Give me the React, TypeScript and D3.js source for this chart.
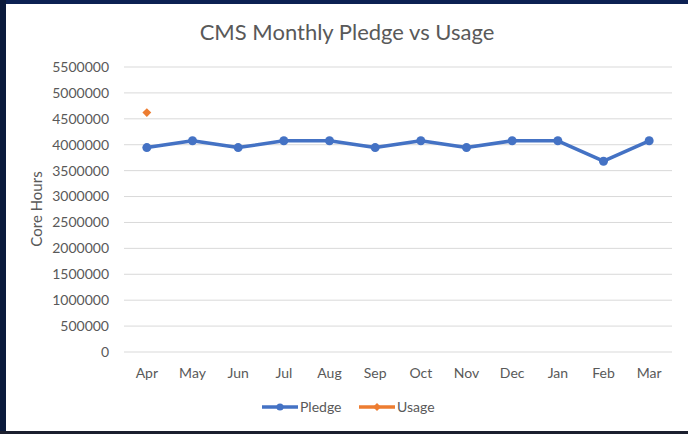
import React, { useEffect, useRef } from "react";
import * as d3 from "d3";

const months = ["Apr", "May", "Jun", "Jul", "Aug", "Sep", "Oct", "Nov", "Dec", "Jan", "Feb", "Mar"];
const pledge = [3945000, 4076000, 3945000, 4076000, 4076000, 3945000, 4076000, 3945000, 4076000, 4076000, 3682000, 4076000];
const usage = [4620000];
const yTicks = d3.range(0, 5500001, 500000);

const W = 688;
const H = 434;
const FONT = "Lato, 'Open Sans', sans-serif";

export default function App() {
  const svgRef = useRef(null);

  useEffect(() => {
    const svg = d3.select(svgRef.current);
    svg.selectAll("*").remove();

    const margin = { top: 67, right: 16, bottom: 82, left: 124 };

    const x = d3
      .scaleBand()
      .domain(months)
      .range([margin.left, W - margin.right]);
    const y = d3
      .scaleLinear()
      .domain([0, 5500000])
      .range([H - margin.bottom, margin.top]);
    const cx = (m) => x(m) + x.bandwidth() / 2;

    svg.append("rect").attr("width", W).attr("height", H).attr("fill", "#fff");

    // frame
    svg.append("rect").attr("x", 0).attr("y", 0).attr("width", W).attr("height", 4).attr("fill", "#0c2153");
    svg.append("rect").attr("x", 0).attr("y", 0).attr("width", 6).attr("height", H).attr("fill", "#0b1a3c");
    svg.append("rect").attr("x", 0).attr("y", 431).attr("width", W).attr("height", 3).attr("fill", "#1b1f2e");

    // grid
    svg
      .append("g")
      .selectAll("line")
      .data(yTicks)
      .enter()
      .append("line")
      .attr("x1", margin.left)
      .attr("x2", W - margin.right)
      .attr("y1", (d) => y(d))
      .attr("y2", (d) => y(d))
      .attr("stroke", "#d9d9d9")
      .attr("stroke-width", 1);

    // y labels
    svg
      .append("g")
      .selectAll("text")
      .data(yTicks)
      .enter()
      .append("text")
      .attr("x", 109)
      .attr("y", (d) => y(d))
      .attr("dy", "0.35em")
      .attr("text-anchor", "end")
      .attr("font-family", FONT)
      .attr("font-size", 14)
      .attr("fill", "#595959")
      .text((d) => d);

    // x labels
    svg
      .append("g")
      .selectAll("text")
      .data(months)
      .enter()
      .append("text")
      .attr("x", (d) => cx(d))
      .attr("y", 373)
      .attr("dy", "0.35em")
      .attr("text-anchor", "middle")
      .attr("font-family", FONT)
      .attr("font-size", 14)
      .attr("fill", "#595959")
      .text((d) => d);

    // title
    svg
      .append("text")
      .attr("x", 347)
      .attr("y", 32)
      .attr("dy", "0.35em")
      .attr("text-anchor", "middle")
      .attr("font-family", FONT)
      .attr("font-size", 22)
      .attr("fill", "#595959")
      .text("CMS Monthly Pledge vs Usage");

    // axis title
    svg
      .append("text")
      .attr("transform", "translate(37,209) rotate(-90)")
      .attr("dy", "0.35em")
      .attr("text-anchor", "middle")
      .attr("font-family", FONT)
      .attr("font-size", 15)
      .attr("fill", "#595959")
      .text("Core Hours");

    // pledge line
    const line = d3
      .line()
      .x((d, i) => cx(months[i]))
      .y((d) => y(d));
    svg
      .append("path")
      .datum(pledge)
      .attr("d", line)
      .attr("fill", "none")
      .attr("stroke", "#4472c4")
      .attr("stroke-width", 3.5)
      .attr("stroke-linejoin", "round");
    svg
      .append("g")
      .selectAll("circle")
      .data(pledge)
      .enter()
      .append("circle")
      .attr("cx", (d, i) => cx(months[i]))
      .attr("cy", (d) => y(d))
      .attr("r", 4.5)
      .attr("fill", "#4472c4");

    // usage
    const diamond = d3.symbol().type(d3.symbolDiamond2).size(50);
    svg
      .append("g")
      .selectAll("path")
      .data(usage)
      .enter()
      .append("path")
      .attr("d", diamond)
      .attr("transform", (d, i) => `translate(${cx(months[i])},${y(d)})`)
      .attr("fill", "#ed7d31");

    // legend
    const lg = svg.append("g").attr("transform", "translate(0,407)");
    const items = [
      { name: "Pledge", color: "#4472c4", x: 262, sym: d3.symbol().type(d3.symbolCircle).size(40) },
      { name: "Usage", color: "#ed7d31", x: 359, sym: d3.symbol().type(d3.symbolDiamond2).size(40) },
    ];
    items.forEach((it) => {
      lg.append("line")
        .attr("x1", it.x)
        .attr("x2", it.x + 36)
        .attr("y1", 0)
        .attr("y2", 0)
        .attr("stroke", it.color)
        .attr("stroke-width", 3.5);
      lg.append("path")
        .attr("d", it.sym())
        .attr("transform", `translate(${it.x + 18},0)`)
        .attr("fill", it.color);
      lg.append("text")
        .attr("x", it.x + 38)
        .attr("y", 0)
        .attr("dy", "0.35em")
        .attr("font-family", FONT)
        .attr("font-size", 14)
        .attr("fill", "#595959")
        .text(it.name);
    });
  }, []);

  return (
    <svg
      ref={svgRef}
      width={W}
      height={H}
      style={{ position: "absolute", left: 0, top: 0 }}
    ></svg>
  );
}
